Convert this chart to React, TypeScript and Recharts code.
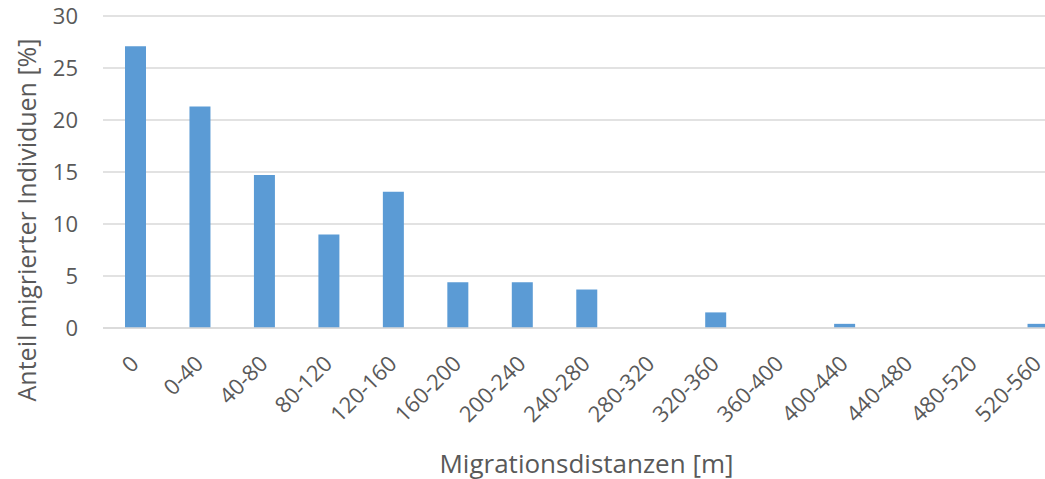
import { BarChart, Bar, XAxis, YAxis, CartesianGrid } from 'recharts';

// Distance classes (m) and share of migrated individuals (%)
const categories = [
  '0', '0-40', '40-80', '80-120', '120-160', '160-200', '200-240', '240-280',
  '280-320', '320-360', '360-400', '400-440', '440-480', '480-520', '520-560',
];
const shares = [27.1, 21.3, 14.7, 9.0, 13.1, 4.4, 4.4, 3.7, 0, 1.5, 0, 0.4, 0, 0, 0.4];
const yTicks = [0, 5, 10, 15, 20, 25, 30];

const data = categories.map((name, i) => ({ name, value: shares[i] }));

const FONT = '"Open Sans", sans-serif';
const TEXT = '#595959';

function AngledTick({ x = 0, y = 0, payload }: { x?: number; y?: number; payload?: { value: string } }) {
  return (
    <g transform={`translate(${x + 5},${y + 29}) rotate(-45)`}>
      <text x={0} y={0} textAnchor="end" fill={TEXT} fontSize={22} fontFamily={FONT}>
        {payload?.value}
      </text>
    </g>
  );
}

function YTitle() {
  return (
    <text
      x={36}
      y={220}
      textAnchor="middle"
      transform="rotate(-90, 36, 220)"
      fill={TEXT}
      fontSize={25}
      fontFamily={FONT}
    >
      Anteil migrierter Individuen [%]
    </text>
  );
}

export default function App() {
  return (
    <div style={{ position: 'absolute', left: 0, top: 0, width: 1045, height: 479, overflow: 'hidden', background: '#fff' }}>
      <BarChart
        width={1075}
        height={479}
        data={data}
        margin={{ top: 16, right: 5, left: 0, bottom: 0 }}
      >
        <CartesianGrid vertical={false} stroke="#D9D9D9" strokeWidth={1.5} />
        <XAxis
          dataKey="name"
          height={151}
          interval={0}
          tickLine={false}
          axisLine={{ stroke: '#D9D9D9', strokeWidth: 1.5 }}
          tick={<AngledTick />}
          label={{ value: 'Migrationsdistanzen [m]', position: 'insideBottom', offset: 6, fill: TEXT, fontSize: 26, fontFamily: FONT }}
        />
        <YAxis
          width={103}
          domain={[0, 30]}
          ticks={yTicks}
          tickLine={false}
          axisLine={false}
          tickSize={0}
          tickMargin={25}
          tick={{ fill: TEXT, fontSize: 22, fontFamily: FONT }}
          label={<YTitle />}
        />
        <Bar dataKey="value" fill="#5B9BD5" barSize={21} isAnimationActive={false} />
      </BarChart>
    </div>
  );
}
